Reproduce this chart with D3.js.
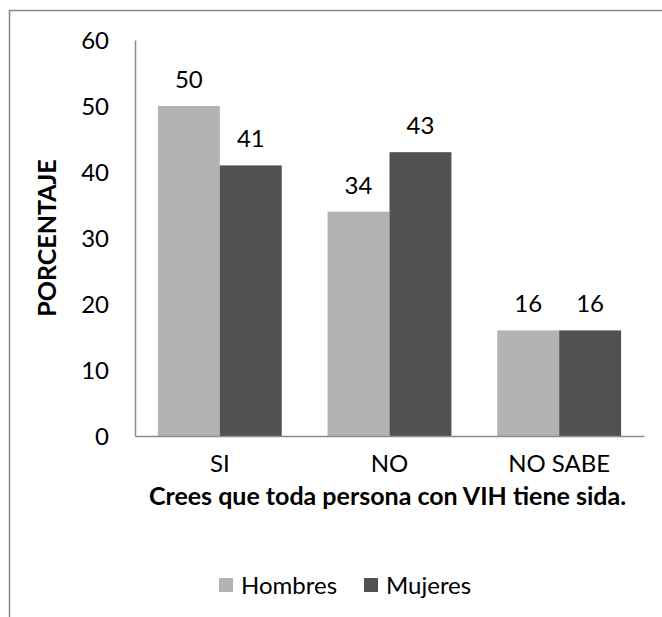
<!DOCTYPE html>
<html>
<head>
<meta charset="utf-8">
<script src="https://cdn.jsdelivr.net/npm/d3@7"></script>
<style>
  html, body { margin: 0; padding: 0; background: #fff; }
  svg { display: block; }
  text { font-family: Lato, "Open Sans", sans-serif; fill: #000; }
</style>
</head>
<body>
<svg id="chart" width="662" height="617"></svg>
<script>
const categories = ["SI", "NO", "NO SABE"];
const seriesNames = ["Hombres", "Mujeres"];
const hombres = [50, 34, 16];
const mujeres = [41, 43, 16];
const yTicks = [0, 10, 20, 30, 40, 50, 60];
const colors = ["#b3b3b3", "#515151"];

const svg = d3.select("#chart");
const W = 662, H = 617;
const m = { left: 135, right: 18, top: 40, bottom: 181 };

// outer border
svg.append("rect")
  .attr("x", 9.5).attr("y", 10.5)
  .attr("width", W + 20).attr("height", H + 20)
  .attr("fill", "none").attr("stroke", "#898989").attr("stroke-width", 1.5);

const x0 = d3.scaleBand().domain(categories)
  .range([m.left, W - m.right]).paddingInner(0.27).paddingOuter(0.135);
const x1 = d3.scaleBand().domain(seriesNames).range([0, x0.bandwidth()]);
const y = d3.scaleLinear().domain([0, 60]).range([H - m.bottom, m.top]);

const data = categories.map((c, i) => ({ cat: c, vals: [hombres[i], mujeres[i]] }));

// bars
const g = svg.append("g");
data.forEach(d => {
  d.vals.forEach((v, j) => {
    const bx = x0(d.cat) + x1(seriesNames[j]);
    g.append("rect")
      .attr("x", bx).attr("y", y(v))
      .attr("width", x1.bandwidth()).attr("height", y(0) - y(v))
      .attr("fill", colors[j]);
    g.append("text")
      .attr("x", bx + x1.bandwidth() / 2).attr("y", y(v) - 18)
      .attr("text-anchor", "middle").attr("font-size", 24)
      .text(v);
  });
});

// y axis
const yAxis = svg.append("g").attr("transform", `translate(${m.left},0)`)
  .call(d3.axisLeft(y).tickValues(yTicks).tickSize(0).tickPadding(26));
yAxis.select(".domain").attr("stroke", "#8c8c8c").attr("stroke-width", 1.5);
yAxis.selectAll("text").attr("font-size", 24).attr("dy", "0.34em");

// x axis
const xAxis = svg.append("g").attr("transform", `translate(0,${y(0)})`)
  .call(d3.axisBottom(x0).tickSize(0).tickPadding(28));
xAxis.select(".domain").attr("stroke", "#8c8c8c").attr("stroke-width", 1.5);
xAxis.selectAll("text").attr("font-size", 24).attr("dy", "0.34em");

// axis titles
svg.append("text")
  .attr("x", (m.left + W - m.right) / 2 - 2).attr("y", 505)
  .attr("text-anchor", "middle").attr("font-size", 25).attr("font-weight", "bold")
  .text("Crees que toda persona con VIH tiene sida.");

svg.append("text")
  .attr("transform", `translate(56,${(y(0) + y(60)) / 2}) rotate(-90)`)
  .attr("text-anchor", "middle").attr("font-size", 25).attr("font-weight", "bold")
  .text("PORCENTAJE");

// legend
const legend = svg.append("g");
const legX = [219, 364];
seriesNames.forEach((s, j) => {
  legend.append("rect")
    .attr("x", legX[j]).attr("y", 578).attr("width", 14).attr("height", 14)
    .attr("fill", colors[j]);
  legend.append("text")
    .attr("x", legX[j] + 22).attr("y", 585).attr("dy", "0.36em")
    .attr("font-size", 24).text(s);
});
</script>
</body>
</html>
